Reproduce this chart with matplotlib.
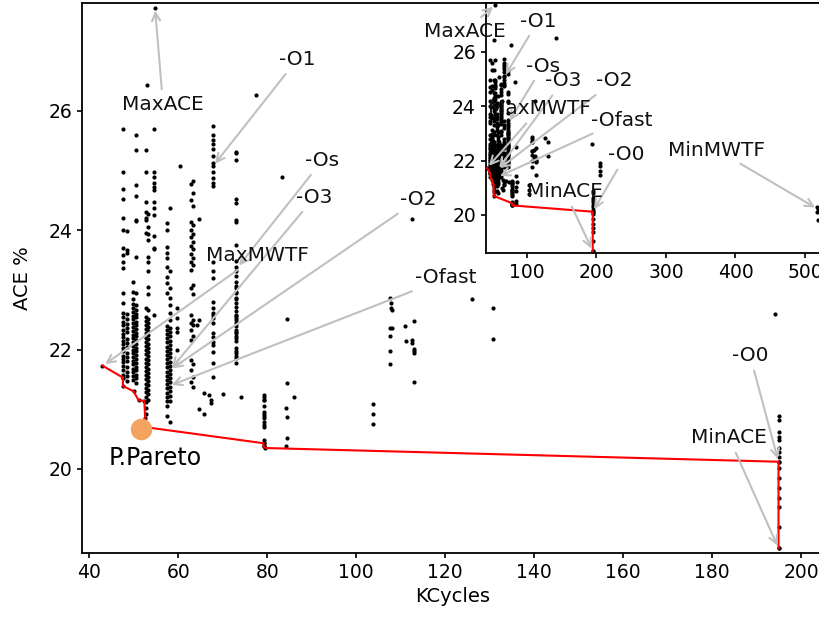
import matplotlib
matplotlib.use('Agg')
import matplotlib.pyplot as plt

# Data (KCycles vs ACE %)
# Vertical stripes: one KCycles value per stripe, ACE values listed
a1_kc = 47.7
a1_ace = [25.69, 24.98, 24.70, 24.53, 24.21, 24.01, 23.70, 23.59, 23.47, 23.37, 22.95, 22.78,
          22.62, 22.55, 22.47, 22.41, 22.33, 22.26, 22.21, 22.14, 22.09, 22.02, 21.97, 21.90,
          21.85, 21.79, 21.73, 21.66, 21.58, 21.52]
a2_kc = 48.4
a2_ace = [23.98, 23.67, 23.62, 22.60, 22.51, 22.43, 22.36, 22.29, 22.18, 22.11, 22.05, 21.95,
          21.87, 21.81, 21.70, 21.62, 21.55, 21.47]
b1_kc = 49.9
b1_ace = [23.14, 22.97, 22.84, 22.77, 22.70, 22.63, 22.57, 22.51, 22.44, 22.38, 22.31, 22.25,
          22.19, 22.13, 22.06, 22.00, 21.94, 21.87, 21.81, 21.75, 21.68, 21.62, 21.56, 21.49]
b2_kc = 50.6
b2_ace = [25.59, 25.34, 24.76, 24.58, 24.18, 24.15, 23.56, 22.95, 22.74, 22.67, 22.60, 22.54,
          22.47, 22.41, 22.35, 22.28, 22.22, 22.16, 22.10, 22.03, 21.97, 21.91, 21.84, 21.78,
          21.71, 21.65, 21.58, 21.52, 21.44]
c1_kc = 52.7
c1_ace = [25.34, 24.98, 24.48, 24.31, 24.21, 24.18, 23.96, 22.70, 22.55, 22.48, 22.41, 22.34,
          22.27, 22.20, 22.13, 22.06, 21.99, 21.92, 21.85, 21.78, 21.71, 21.64, 21.57, 21.50,
          21.43, 21.36, 21.29, 21.21, 21.12, 21.02, 20.92]
c2_kc = 53.3
c2_ace = [24.28, 24.06, 23.93, 23.84, 23.56, 23.46, 23.31, 23.05, 22.94, 22.67, 22.52, 22.45,
          22.38, 22.31, 22.24, 22.17, 22.10, 22.03, 21.96, 21.89, 21.82, 21.75, 21.68, 21.61,
          21.54, 21.47, 21.40, 21.33, 21.25, 21.16]
c3_kc = 54.5
c3_ace = [25.69, 24.98, 24.90, 24.80, 24.73, 24.68, 24.48, 24.38, 24.26, 23.91, 23.71, 23.68, 22.58]
d1_kc = 57.6
d1_ace = [24.13, 24.00, 23.72, 23.62, 23.54, 23.39, 23.22, 23.12, 22.95, 22.40, 22.33, 22.26,
          22.19, 22.12, 22.05, 21.98, 21.91, 21.84, 21.77, 21.70, 21.63, 21.56, 21.49, 21.42,
          21.35, 21.28, 21.21, 21.14, 21.06, 20.88]
d2_kc = 58.2
d2_ace = [24.38, 23.31, 23.04, 22.86, 22.75, 22.62, 22.50, 22.36, 22.29, 22.22, 22.15, 22.08,
          22.01, 21.94, 21.87, 21.80, 21.73, 21.66, 21.59, 21.52, 21.45, 21.38, 21.31, 21.23,
          21.13, 20.79]
e1_kc = 62.8
e1_ace = [24.77, 24.51, 24.14, 24.01, 23.88, 23.74, 23.61, 23.47, 23.34, 23.04, 22.58, 22.45,
          22.33, 22.16, 21.83, 21.66, 21.46]
e2_kc = 63.3
e2_ace = [24.82, 24.63, 24.40, 24.08, 23.94, 23.81, 23.68, 23.54, 23.42, 23.09, 22.94, 22.50,
          22.42, 22.22, 21.75, 21.54, 21.38]
f_kc = 67.8
f_ace = [25.74, 25.60, 25.52, 25.45, 25.37, 25.25, 25.13, 25.08, 24.97, 24.87, 24.80, 24.75,
         23.47, 23.31, 23.20, 22.79, 22.70, 22.62, 22.58, 22.53, 22.45, 22.28, 22.21, 22.13,
         22.08, 21.96, 21.78, 21.54]
g_kc = 73.0
g_ace = [25.32, 25.29, 25.17, 24.53, 24.45, 24.18, 24.14, 23.76, 23.48, 23.39, 23.31, 23.23,
         23.14, 23.06, 23.03, 22.97, 22.95, 22.86, 22.84, 22.78, 22.72, 22.64, 22.58, 22.56,
         22.53, 22.50, 22.45, 22.39, 22.33, 22.30, 22.28, 22.22, 22.19, 22.14, 22.02, 21.97,
         21.94, 21.90, 21.86, 21.78]
h_kc = 79.3
h_ace = [21.24, 21.20, 21.16, 21.15, 21.05, 20.95, 20.92, 20.89, 20.85, 20.79, 20.74, 20.70,
         20.49, 20.43, 20.38]
o0_kc = 194.9
o0_ace = [20.89, 20.82, 20.62, 20.54, 20.49, 20.35, 20.29, 20.20, 20.12, 20.02, 19.85, 19.68,
          19.51, 19.36, 19.03, 18.67]

# Scattered points
loose_kc = [54.8, 53.0, 77.5, 60.4, 83.4, 64.7, 112.6,
            59.8, 59.8, 59.8, 59.8, 59.8, 64.6, 64.2,
            65.8, 67.0, 70.1, 74.1, 67.3, 64.6, 65.8, 67.3,
            84.4, 84.4, 86.1, 84.3, 84.4, 84.4, 84.3,
            103.8, 103.8, 103.8,
            107.7, 107.8, 107.9, 108.1, 107.6, 108.1, 107.7, 107.7, 107.7,
            111.0, 111.2, 112.9, 112.6, 112.6, 113.1, 113.1, 112.9, 113.1,
            126.0, 130.7, 130.7, 142.1, 194.0,
            205.3, 205.3, 205.3, 205.3,
            517.5, 518.5, 517.5, 518.2]
loose_ace = [27.73, 26.43, 26.26, 25.08, 24.90, 24.19, 24.19,
             22.70, 22.53, 22.37, 22.30, 22.00, 22.50, 22.42,
             21.28, 21.24, 21.25, 21.20, 21.10, 21.00, 20.92, 21.15,
             22.51, 21.44, 21.21, 21.02, 20.87, 20.52, 20.39,
             21.09, 20.92, 20.76,
             22.86, 22.78, 22.70, 22.67, 22.37, 22.37, 22.22, 21.98, 21.75,
             22.40, 22.15, 22.48, 22.16, 22.11, 22.01, 21.97, 21.94, 21.46,
             22.84, 22.70, 22.18, 26.50, 22.60,
             21.91, 21.80, 21.60, 21.47,
             20.30, 20.22, 20.12, 19.80]

# Pareto front
pareto_kc = [43.0, 47.6, 47.6, 50.0, 51.1, 52.4, 52.6, 52.6, 79.2, 79.2, 79.6, 194.9, 194.9]
pareto_ace = [21.73, 21.53, 21.39, 21.30, 21.15, 21.14, 20.85, 20.70, 20.43, 20.38, 20.35, 20.12, 18.67]
ppareto_kc = 51.7
ppareto_ace = 20.67

# Annotated configurations: label -> (KCycles, ACE %)
labels = ['MaxACE', '-O1', '-Os', '-O3', '-O2', 'MaxMWTF', '-Ofast', '-O0', 'MinACE', 'MinMWTF']
label_kc = [54.8, 67.9, 73.3, 58.2, 58.2, 43.1, 58.0, 194.9, 194.9, 518.0]
label_ace = [27.73, 25.08, 23.37, 21.66, 21.66, 21.73, 21.39, 20.12, 18.67, 20.22]

# Text placement (data coords) for the main panel and the inset
main_text_pos = {'MaxACE': (56.6, 26.11), '-O1': (86.7, 26.86), '-Os': (92.4, 25.17),
                 '-O3': (90.6, 24.55), '-O2': (113.9, 24.51), 'MaxMWTF': (77.8, 23.57),
                 '-Ofast': (120.2, 23.2), '-O0': (188.5, 21.9), 'MinACE': (183.8, 20.52)}
inset_text_pos = {'MaxACE': (11.3, 26.76), '-O1': (116.2, 27.13), '-Os': (123.4, 25.48),
                  '-O3': (152.2, 24.93), '-O2': (225.4, 24.93), 'MaxMWTF': (117.7, 23.90),
                  '-Ofast': (236.9, 23.49), '-O0': (242.7, 22.21), 'MinACE': (155.0, 20.85),
                  'MinMWTF': (373.4, 22.39)}

plt.rcParams['font.family'] = ['DejaVu Sans']

stripes = [(a1_kc, a1_ace), (a2_kc, a2_ace), (b1_kc, b1_ace), (b2_kc, b2_ace),
           (c1_kc, c1_ace), (c2_kc, c2_ace), (c3_kc, c3_ace), (d1_kc, d1_ace),
           (d2_kc, d2_ace), (e1_kc, e1_ace), (e2_kc, e2_ace), (f_kc, f_ace),
           (g_kc, g_ace), (h_kc, h_ace), (o0_kc, o0_ace)]
all_kc = list(loose_kc) + list(pareto_kc)
all_ace = list(loose_ace) + list(pareto_ace)
for kc, ace in stripes:
    all_kc += [kc] * len(ace)
    all_ace += ace

fig = plt.figure(figsize=(8.2, 6.21), dpi=100)
ax = fig.add_axes([0.1, 0.1095, 0.9037, 0.8857])
axin = fig.add_axes([0.5923, 0.5926, 0.4138, 0.4026])

arrow = dict(arrowstyle='->', color='#c0c0c0', lw=1.5)

for a, pos in [(ax, main_text_pos), (axin, inset_text_pos)]:
    a.scatter(all_kc, all_ace, s=9, c='black', linewidths=0, zorder=2)
    a.plot(pareto_kc, pareto_ace, color='red', lw=1.5, zorder=3)
    for name, kc, ace in zip(labels, label_kc, label_ace):
        if name not in pos:
            continue
        a.annotate(name, xy=(kc, ace), xytext=pos[name], fontsize=14.5,
                   ha='center', va='center', color='#111111',
                   arrowprops=arrow, zorder=5)
    for s in a.spines.values():
        s.set_linewidth(1.3)
    a.tick_params(labelsize=13.5, width=1.2)

ax.scatter([ppareto_kc], [ppareto_ace], s=210, color='#f4a460', zorder=4)
ax.text(54.8, 20.18, 'P.Pareto', fontsize=17, ha='center', va='center')

ax.set_xlim(38.4, 204.9)
ax.set_ylim(18.59, 27.81)
ax.set_xticks([40, 60, 80, 100, 120, 140, 160, 180, 200])
ax.set_yticks([20, 22, 24, 26])
ax.set_xlabel('KCycles', fontsize=14)
ax.set_ylabel('ACE %', fontsize=14, labelpad=12)

axin.set_xlim(41.1, 528.6)
axin.set_ylim(18.6, 27.8)
axin.set_xticks([100, 200, 300, 400, 500])
axin.set_yticks([20, 22, 24, 26])
axin.set_facecolor('white')

fig.savefig('out.png', dpi=100)
